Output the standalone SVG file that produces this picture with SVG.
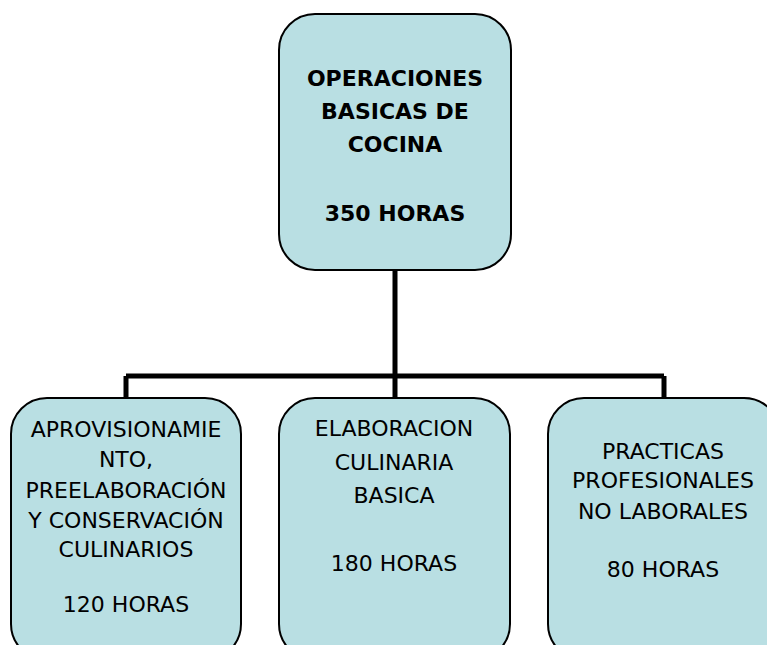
<svg xmlns="http://www.w3.org/2000/svg" width="767" height="645" viewBox="0 0 767 645">
<style>
.box{fill:#b9dfe3;stroke:#000;stroke-width:2}
.t{font-family:"DejaVu Sans","Liberation Sans",sans-serif;font-size:22px;fill:#000;text-anchor:middle}
.b{font-weight:bold}
.c{fill:none;stroke:#000;stroke-width:5}
</style>
<rect width="767" height="645" fill="#fff"/>
<g id="connectors">
<path class="c" d="M395 270V376M126 376H664M126 376V398M395 376V398M664 376V398"/>
</g>
<g id="root">
<rect class="box" x="279" y="14" width="232" height="256" rx="36"/>
<text class="t b" x="395" y="86">OPERACIONES</text>
<text class="t b" x="395" y="119">BASICAS DE</text>
<text class="t b" x="395" y="152">COCINA</text>
<text class="t b" x="395" y="221">350 HORAS</text>
</g>
<g id="aprovisionamiento">
<rect class="box" x="11" y="398" width="230" height="262" rx="36"/>
<text class="t" x="126" y="437">APROVISIONAMIE</text>
<text class="t" x="126" y="467">NTO,</text>
<text class="t" x="126" y="498">PREELABORACIÓN</text>
<text class="t" x="126" y="528">Y CONSERVACIÓN</text>
<text class="t" x="126" y="557">CULINARIOS</text>
<text class="t" x="126" y="612">120 HORAS</text>
</g>
<g id="elaboracion">
<rect class="box" x="279" y="398" width="231" height="262" rx="36"/>
<text class="t" x="394" y="436">ELABORACION</text>
<text class="t" x="394" y="470">CULINARIA</text>
<text class="t" x="394" y="503">BASICA</text>
<text class="t" x="394" y="571">180 HORAS</text>
</g>
<g id="practicas">
<rect class="box" x="548" y="398" width="232" height="262" rx="36"/>
<text class="t" x="663" y="459">PRACTICAS</text>
<text class="t" x="663" y="488">PROFESIONALES</text>
<text class="t" x="663" y="519">NO LABORALES</text>
<text class="t" x="663" y="577">80 HORAS</text>
</g>
</svg>
